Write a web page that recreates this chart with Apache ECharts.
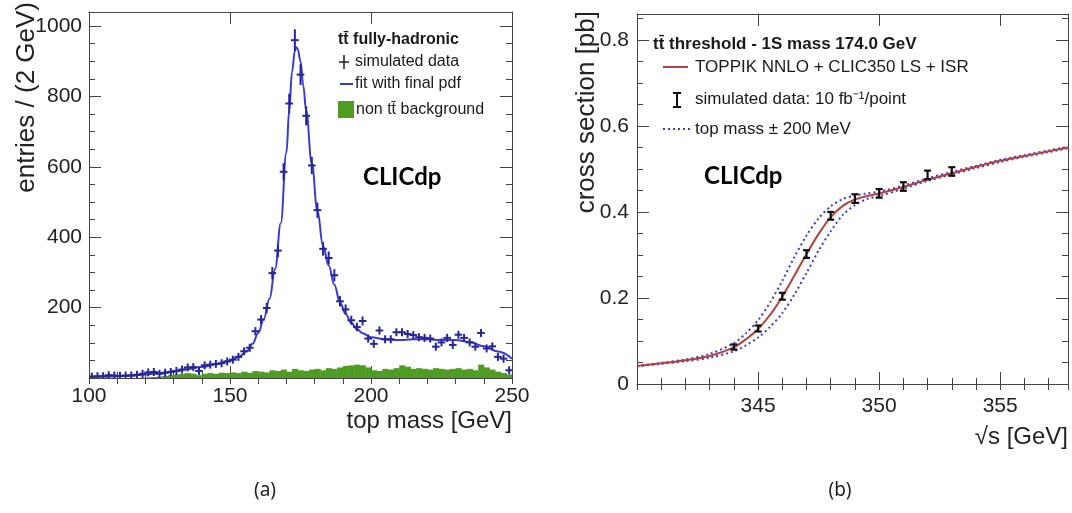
<!DOCTYPE html>
<html>
<head>
<meta charset="utf-8">
<script src="https://cdn.jsdelivr.net/npm/echarts@6/dist/echarts.min.js"></script>
<style>
  html, body { margin: 0; background: #fff; }
  #chart { width: 1072px; height: 513px; }
</style>
</head>
<body>
<div id="chart"></div>
<script>
// (a) reconstructed top mass, 2 GeV bins starting at 100 GeV
const binLow = 100;
const binWidth = 2;
const simCounts = [
  4, 5, 5, 8, 7, 6, 7, 7, 9, 12,
  16, 17, 12, 15, 17, 20, 24, 30, 31, 20,
  36, 38, 40, 42, 47, 52, 60, 76, 86, 133,
  166, 199, 298, 362, 586, 780, 960, 862, 745, 604,
  477, 367, 341, 292, 218, 195, 164, 145, 162, 112,
  97, 135, 110, 110, 130, 130, 125, 122, 116, 114,
  112, 89, 101, 114, 94, 123, 114, 101, 89, 128,
  84, 90, 60, 55, 22
];
const bkgCounts = [
  0, 0, 0, 0, 0, 0, 0, 0, 0, 1,
  2, 3, 4, 6, 8, 10, 12, 14, 12, 8,
  12, 14, 12, 15, 14, 16, 14, 18, 15, 20,
  18, 16, 22, 20, 24, 18, 26, 22, 20, 24,
  26, 22, 28, 26, 30, 34, 36, 38, 36, 30,
  22, 20, 26, 24, 28, 36, 32, 26, 28, 26,
  24, 28, 26, 24, 26, 28, 24, 26, 22, 38,
  30, 24, 18, 14, 10
];
const fitMass = [100, 105, 110, 115, 120, 125, 130, 135, 140, 145, 150, 153, 156, 158, 160, 162, 164, 166, 168, 170,
  171, 172, 173, 173.5, 174, 175, 176, 177, 179, 181, 183, 185, 187, 189, 191, 193, 195, 197, 200,
  205, 210, 215, 220, 225, 230, 235, 240, 245, 250];
const fitValue = [3, 4, 5, 7, 10, 14, 19, 25, 31, 39, 50, 60, 76, 97, 128, 168, 225, 310, 440, 640,
  760, 870, 930, 940, 935, 900, 830, 760, 610, 475, 375, 320, 265, 215, 182, 157, 139, 127, 116,
  110, 108, 110, 110, 108, 108, 102, 90, 75, 55];

// (b) threshold scan
const scanEnergy = [344, 345, 346, 347, 348, 349, 350, 351, 352, 353];
const scanXsec = [0.086, 0.129, 0.204, 0.302, 0.391, 0.431, 0.443, 0.459, 0.486, 0.494];
const scanErr = [0.006, 0.007, 0.008, 0.009, 0.009, 0.01, 0.01, 0.01, 0.01, 0.01];
const curveEnergy = [340, 341, 342, 343, 344, 344.5, 345, 345.5, 346, 346.5, 347, 347.5, 348, 348.5,
  349, 349.5, 350, 351, 352, 353, 354, 355, 356, 357, 358];
const xsecNominal = [0.042, 0.048, 0.055, 0.065, 0.085, 0.104, 0.128, 0.161, 0.203, 0.252, 0.302, 0.349, 0.388, 0.414,
  0.429, 0.437, 0.443, 0.458, 0.475, 0.49, 0.505, 0.519, 0.53, 0.541, 0.552];
const xsecMassDown = [0.042, 0.049, 0.057, 0.07, 0.095, 0.118, 0.148, 0.19, 0.24, 0.295, 0.345, 0.385, 0.413, 0.43,
  0.438, 0.443, 0.447, 0.461, 0.478, 0.493, 0.507, 0.521, 0.532, 0.543, 0.553];
const xsecMassUp = [0.041, 0.047, 0.053, 0.061, 0.076, 0.09, 0.108, 0.133, 0.165, 0.208, 0.258, 0.31, 0.355, 0.393,
  0.416, 0.43, 0.437, 0.454, 0.472, 0.487, 0.502, 0.516, 0.528, 0.539, 0.55];

const FONT = '"Liberation Sans", Arial, sans-serif';
const frameColor = '#444';
const textColor = '#1a1a1a';
const blue = '#3a3ad8';
const crossBlue = '#26269a';
const green = '#4f9c22';
const red = '#b8403c';

// ROOT-like frame: major + minor ticks on all four sides, pointing inward
function frameAxes(dim, grid, min, max, major, minor, label) {
  const sides = dim === 'x' ? ['bottom', 'top'] : ['left', 'right'];
  const out = [];
  sides.forEach((pos, k) => {
    const base = {
      type: 'value', gridIndex: grid, min: min, max: max, position: pos,
      splitLine: { show: false }
    };
    out.push(Object.assign({}, base, {
      interval: major,
      axisLine: { show: true, onZero: false, lineStyle: { color: frameColor, width: 1 } },
      axisTick: { show: true, inside: true, length: 12, lineStyle: { color: frameColor } },
      axisLabel: k === 0 ? label : { show: false }
    }));
    out.push(Object.assign({}, base, {
      interval: minor,
      axisLine: { show: false },
      axisTick: { show: true, inside: true, length: 6, lineStyle: { color: frameColor } },
      axisLabel: { show: false }
    }));
  });
  return out;
}

const tickLabel = { fontFamily: FONT, fontSize: 21, color: '#222' };

const xAxes = [].concat(
  frameAxes('x', 0, 100, 250, 50, 10, Object.assign({ margin: 8 }, tickLabel)),
  frameAxes('x', 1, 340, 357.8, 5, 1, Object.assign({
    margin: 12,
    formatter: v => (v > 340 && v < 357) ? String(v) : ''
  }, tickLabel))
);
const yAxes = [].concat(
  frameAxes('y', 0, 0, 1040, 200, 50, Object.assign({
    margin: 7,
    formatter: v => (v > 0 && v <= 1000) ? String(v) : ''
  }, tickLabel)),
  frameAxes('y', 1, 0, 0.86, 0.2, 0.05, Object.assign({
    margin: 8,
    formatter: v => v <= 0.8001 ? String(+v.toFixed(1)) : ''
  }, tickLabel))
);

const histData = simCounts.map((v, i) => [binLow + binWidth * (i + 0.5), v]);
const bkgData = bkgCounts.map((v, i) => [binLow + binWidth * (i + 0.5), v]);

function renderBkg(params, api) {
  const x = api.value(0), y = api.value(1);
  if (!y) return null;
  const p0 = api.coord([x - binWidth / 2, y]);
  const p1 = api.coord([x + binWidth / 2, 0]);
  return {
    type: 'rect',
    shape: { x: p0[0], y: p0[1], width: p1[0] - p0[0] + 0.5, height: p1[1] - p0[1] },
    style: { fill: green }
  };
}

function renderCross(params, api) {
  const x = api.value(0), y = api.value(1);
  const err = Math.sqrt(y);
  const l = api.coord([x - binWidth / 2, y]);
  const r = api.coord([x + binWidth / 2, y]);
  const t = api.coord([x, y + err]);
  const b = api.coord([x, Math.max(0, y - err)]);
  const st = { stroke: crossBlue, lineWidth: 2 };
  // keep the cross visible even where the error bar is tiny
  const half = Math.max((b[1] - t[1]) / 2, 4);
  return {
    type: 'group',
    children: [
      { type: 'line', shape: { x1: l[0] - 1, y1: l[1], x2: r[0] + 1, y2: r[1] }, style: st },
      { type: 'line', shape: { x1: t[0], y1: l[1] - half, x2: b[0], y2: l[1] + half }, style: st }
    ]
  };
}

function renderIBar(params, api) {
  const i = params.dataIndex;
  const x = api.value(0), y = api.value(1);
  const t = api.coord([x, y + scanErr[i]]);
  const b = api.coord([x, y - scanErr[i]]);
  const st = { stroke: '#111', lineWidth: 2.2 };
  return {
    type: 'group',
    children: [
      { type: 'line', shape: { x1: t[0], y1: t[1], x2: b[0], y2: b[1] }, style: st },
      { type: 'line', shape: { x1: t[0] - 3.5, y1: t[1], x2: t[0] + 3.5, y2: t[1] }, style: st },
      { type: 'line', shape: { x1: b[0] - 3.5, y1: b[1], x2: b[0] + 3.5, y2: b[1] }, style: st }
    ]
  };
}

const zipPts = (xs, ys) => xs.map((x, i) => [x, ys[i]]);

function txt(x, y, text, opts) {
  return {
    type: 'text', x: x, y: y, silent: true,
    rotation: (opts && opts.rotation) || 0,
    style: Object.assign({
      text: text, fill: textColor, font: '16px ' + FONT,
      align: 'left', verticalAlign: 'middle'
    }, opts && opts.style)
  };
}
function seg(x1, y1, x2, y2, style) {
  return { type: 'line', silent: true, shape: { x1: x1, y1: y1, x2: x2, y2: y2 }, style: style };
}

const graphics = [
  // axis titles
  txt(27, 2, 'entries / (2 GeV)', { rotation: Math.PI / 2, style: { font: '26px ' + FONT, align: 'right', fill: '#222' } }),
  txt(512, 421, 'top mass [GeV]', { style: { font: '24px ' + FONT, align: 'right', fill: '#222' } }),
  txt(587, 11, 'cross section [pb]', { rotation: Math.PI / 2, style: { font: '26px ' + FONT, align: 'right', fill: '#222' } }),
  txt(1068, 437, '\u221As [GeV]', { style: { font: '24px ' + FONT, align: 'right', fill: '#222' } }),
  // captions
  txt(265, 491, '(a)', { style: { font: '19px "Noto Sans", sans-serif', align: 'center', fill: '#222' } }),
  txt(840, 491, '(b)', { style: { font: '19px "Noto Sans", sans-serif', align: 'center', fill: '#222' } }),
  // CLICdp labels
  txt(363, 177, 'CLICdp', { style: { font: 'bold 24px Lato, "Open Sans", sans-serif', fill: '#000' } }),
  txt(704, 176, 'CLICdp', { style: { font: 'bold 24px Lato, "Open Sans", sans-serif', fill: '#000' } }),
  // legend (a)
  txt(338, 40, 't\u0074\u0304 fully-hadronic', { style: { font: 'bold 16px ' + FONT } }),
  seg(339, 62, 349, 62, { stroke: '#222', lineWidth: 1.5 }),
  seg(344, 55, 344, 69, { stroke: '#222', lineWidth: 1.5 }),
  txt(355, 62, 'simulated data'),
  seg(340, 84, 353, 84, { stroke: blue, lineWidth: 2 }),
  txt(355, 84, 'fit with final pdf'),
  { type: 'rect', silent: true, shape: { x: 338, y: 101, width: 16, height: 17 }, style: { fill: green } },
  txt(356, 110, 'non t\u0074\u0304 background'),
  // legend (b)
  txt(653, 44, 't\u0074\u0304 threshold - 1S mass 174.0 GeV', { style: { font: 'bold 17px ' + FONT } }),
  seg(663, 67, 688, 67, { stroke: red, lineWidth: 2 }),
  txt(695, 67, 'TOPPIK NNLO + CLIC350 LS + ISR', { style: { font: '17px ' + FONT } }),
  seg(677, 93, 677, 107, { stroke: '#111', lineWidth: 2 }),
  seg(673, 93, 681, 93, { stroke: '#111', lineWidth: 2 }),
  seg(673, 107, 681, 107, { stroke: '#111', lineWidth: 2 }),
  txt(695, 99, 'simulated data: 10 fb\u207B\u00B9/point', { style: { font: '17px ' + FONT } }),
  seg(663, 129, 690, 129, { stroke: blue, lineWidth: 2, lineDash: [2, 3] }),
  txt(695, 129, 'top mass \u00B1 200 MeV', { style: { font: '17px ' + FONT } })
];

const option = {
  animation: false,
  backgroundColor: '#fff',
  grid: [
    { left: 89, top: 12, width: 423, height: 366 },
    { left: 637, top: 14, width: 431, height: 370 }
  ],
  xAxis: xAxes,
  yAxis: yAxes,
  graphic: graphics,
  series: [
    { type: 'custom', name: 'non tt background', xAxisIndex: 0, yAxisIndex: 0, renderItem: renderBkg, data: bkgData, clip: true, z: 1 },
    { type: 'line', name: 'fit with final pdf', xAxisIndex: 0, yAxisIndex: 0, data: zipPts(fitMass, fitValue),
      smooth: 0.4, smoothMonotone: 'x', showSymbol: false, lineStyle: { color: blue, width: 2 }, z: 3 },
    { type: 'custom', name: 'simulated data', xAxisIndex: 0, yAxisIndex: 0, renderItem: renderCross, data: histData, clip: true, z: 4 },

    { type: 'line', name: 'mass -200 MeV', xAxisIndex: 4, yAxisIndex: 4, data: zipPts(curveEnergy, xsecMassDown),
      smooth: 0.3, showSymbol: false, clip: true, lineStyle: { color: blue, width: 2, type: [2, 3] }, z: 2 },
    { type: 'line', name: 'mass +200 MeV', xAxisIndex: 4, yAxisIndex: 4, data: zipPts(curveEnergy, xsecMassUp),
      smooth: 0.3, showSymbol: false, clip: true, lineStyle: { color: blue, width: 2, type: [2, 3] }, z: 2 },
    { type: 'line', name: 'TOPPIK', xAxisIndex: 4, yAxisIndex: 4, data: zipPts(curveEnergy, xsecNominal),
      smooth: 0.3, showSymbol: false, clip: true, lineStyle: { color: red, width: 2 }, z: 3 },
    { type: 'custom', name: 'simulated data (b)', xAxisIndex: 4, yAxisIndex: 4, renderItem: renderIBar,
      data: zipPts(scanEnergy, scanXsec), z: 5 }
  ]
};

const chart = echarts.init(document.getElementById('chart'), null, { renderer: 'canvas' });
chart.setOption(option);
</script>
</body>
</html>
